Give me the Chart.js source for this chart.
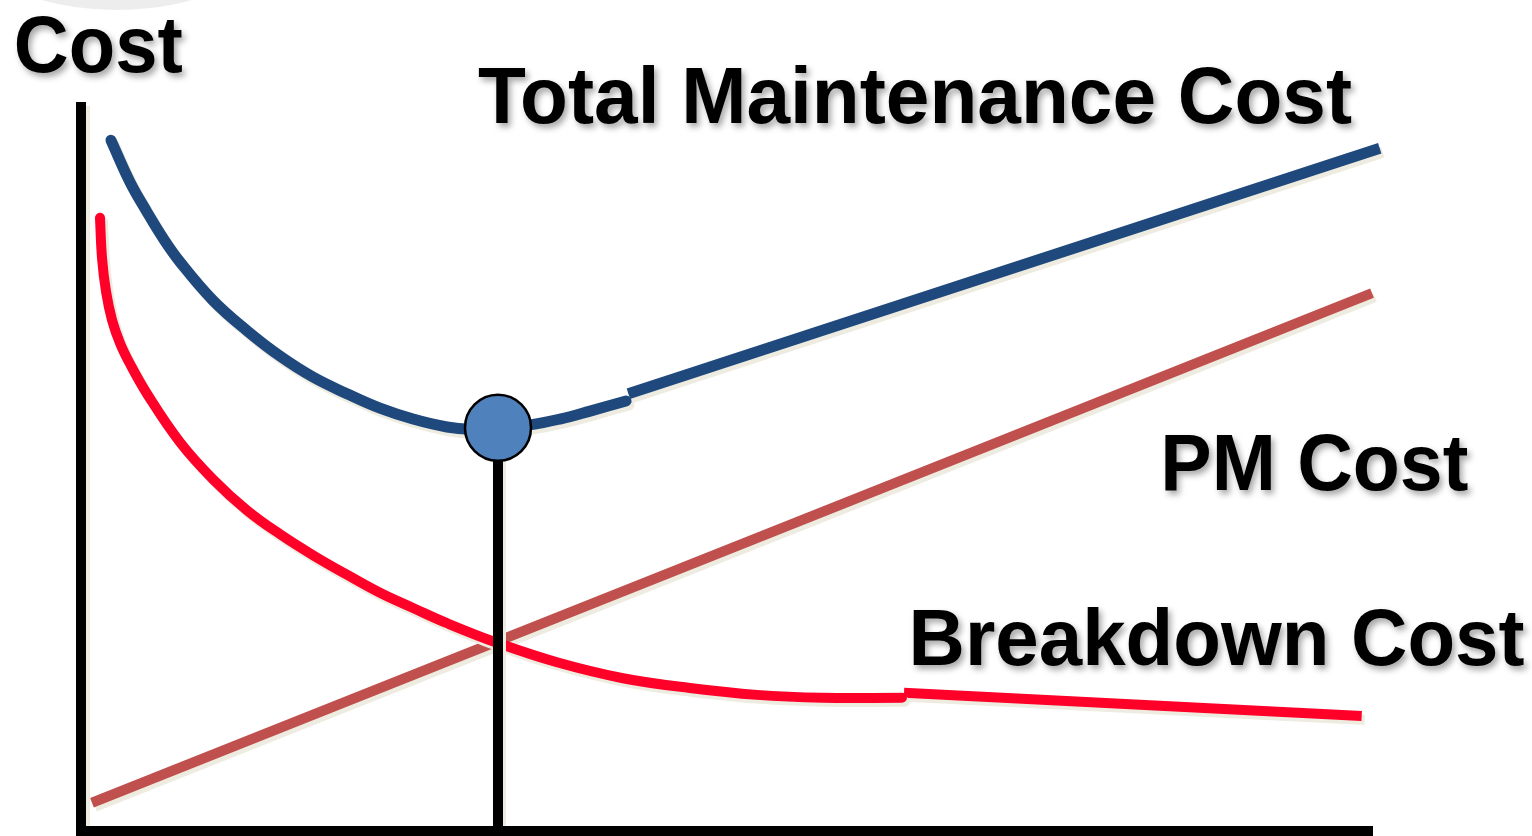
<!DOCTYPE html>
<html>

<head>
    <title>Maintenance Cost Trade-off</title>
    <script src="https://cdn.jsdelivr.net/npm/chart.js"></script>
    <style>
        body { margin: 0; background: #fff; overflow: hidden; }
        canvas { display: block; }
    </style>
</head>

<body>
    <canvas id="cost-chart" width="1532" height="836"></canvas>

    <script>
        // Level of preventive maintenance (x) vs cost (y), both in relative units 0..100
        const totalX = [2.32, 3.80, 5.11, 6.35, 7.67, 10.22, 12.86, 15.41, 17.97, 20.60, 23.16, 25.72, 28.35, 30.13, 32.22, 34.78, 37.10, 39.43, 42.22];
        const totalY = [95.4, 89.6, 85.5, 81.9, 78.6, 73.3, 69.1, 65.6, 62.7, 60.4, 58.4, 56.9, 55.8, 55.5, 55.7, 56.1, 56.9, 58.0, 59.4];
        const totalTailX = [42.4, 100.6];
        const totalTailY = [60.4, 94.3];

        const pmX = [0.85, 100];
        const pmY = [3.9, 74.3];

        const breakdownX = [1.47, 1.63, 1.94, 2.40, 3.02, 3.80, 5.11, 7.67, 10.22, 12.86, 15.41, 17.97, 20.60, 23.16, 25.72, 28.35, 32.22, 36.87, 41.98, 47.17, 52.36, 57.47, 63.59];
        const breakdownY = [84.7, 79.1, 74.5, 70.6, 67.4, 64.5, 60.4, 53.7, 48.6, 44.3, 41.0, 38.1, 35.4, 32.9, 30.8, 28.7, 26.0, 23.3, 21.1, 19.75, 18.8, 18.4, 18.4];
        const breakdownTailX = [63.75, 99.2];
        const breakdownTailY = [19.1, 15.9];

        // optimum point (minimum total cost)
        const optimumX = 32.3;
        const optimumY = 55.7;

        const labelTexts = ['Cost', 'Total Maintenance Cost', 'PM Cost', 'Breakdown Cost'];
        const labelX = [-5.2, 30.75, 83.6, 64.1];
        const labelY = [104.8, 97.8, 47.1, 22.9];

        const pts = (xs, ys) => xs.map((x, i) => ({ x: x, y: ys[i] }));

        // label look: width in px to fit, font size in px
        const labelWidths = [169, 874, 308, 616];
        const labelFont = 'bold 80px "Liberation Sans", Arial, sans-serif';

        const beige = '#eeece1';

        const decoPlugin = {
            id: 'deco',
            beforeDraw(chart) {
                const ctx = chart.ctx;
                // faint grey arc peeking in at the top edge
                ctx.save();
                ctx.fillStyle = '#ededed';
                ctx.beginPath();
                ctx.arc(117, -280, 290, 0, Math.PI * 2);
                ctx.fill();
                ctx.restore();
                // shadow for the vertical axis
                ctx.save();
                ctx.shadowColor = beige;
                ctx.shadowOffsetX = 4;
                ctx.shadowOffsetY = 4;
                ctx.shadowBlur = 0;
            },
            beforeDatasetsDraw(chart) {
                chart.ctx.restore();
            },
            beforeDatasetDraw(chart, args) {
                const ctx = chart.ctx;
                ctx.save();
                if (args.meta._dataset.shadow) {
                    ctx.shadowColor = beige;
                    ctx.shadowOffsetX = 3;
                    ctx.shadowOffsetY = 4;
                    ctx.shadowBlur = 0;
                }
            },
            afterDatasetDraw(chart) {
                chart.ctx.restore();
            },
            afterDraw(chart) {
                const ctx = chart.ctx;
                const xs = chart.scales.x, ys = chart.scales.y;
                ctx.save();
                ctx.font = labelFont;
                ctx.fillStyle = '#000';
                ctx.textBaseline = 'alphabetic';
                ctx.shadowColor = 'rgba(0,0,0,0.35)';
                ctx.shadowBlur = 6;
                ctx.shadowOffsetX = 3;
                ctx.shadowOffsetY = 4;
                labelTexts.forEach((t, i) => {
                    const px = xs.getPixelForValue(labelX[i]);
                    const py = ys.getPixelForValue(labelY[i]);
                    const w = ctx.measureText(t).width;
                    ctx.save();
                    ctx.translate(px, py);
                    ctx.scale(labelWidths[i] / w, 1);
                    ctx.fillText(t, 0, 0);
                    ctx.restore();
                });
                ctx.restore();
            }
        };

        const lineDefaults = {
            showLine: true,
            pointRadius: 0,
            borderCapStyle: 'round',
            borderJoinStyle: 'round',
            clip: false,
            shadow: true
        };

        new Chart(document.getElementById('cost-chart').getContext('2d'), {
            type: 'scatter',
            data: {
                datasets: [
                    {
                        data: [{ x: optimumX, y: optimumY }],
                        pointRadius: 33,
                        backgroundColor: '#4f81bd',
                        borderColor: '#000',
                        borderWidth: 2.5,
                        clip: false,
                        order: 0
                    },
                    Object.assign({}, lineDefaults, {
                        data: [{ x: optimumX, y: 0 }, { x: optimumX, y: optimumY }],
                        borderColor: '#000',
                        borderWidth: 10,
                        borderCapStyle: 'butt',
                        order: 1
                    }),
                    Object.assign({}, lineDefaults, {
                        data: pts(totalX, totalY),
                        borderColor: '#1f497d',
                        borderWidth: 11,
                        tension: 0.4,
                        order: 2
                    }),
                    Object.assign({}, lineDefaults, {
                        data: pts(totalTailX, totalTailY),
                        borderColor: '#1f497d',
                        borderWidth: 11,
                        borderCapStyle: 'butt',
                        order: 2
                    }),
                    Object.assign({}, lineDefaults, {
                        data: pts(breakdownX, breakdownY),
                        borderColor: '#ff0029',
                        borderWidth: 10,
                        tension: 0.4,
                        order: 3
                    }),
                    Object.assign({}, lineDefaults, {
                        data: pts(breakdownTailX, breakdownTailY),
                        borderColor: '#ff0029',
                        borderWidth: 10,
                        borderCapStyle: 'butt',
                        order: 3
                    }),
                    Object.assign({}, lineDefaults, {
                        data: pts(pmX, pmY),
                        borderColor: '#c0504d',
                        borderWidth: 10,
                        borderCapStyle: 'butt',
                        order: 4
                    })
                ]
            },
            options: {
                responsive: false,
                animation: false,
                events: [],
                layout: {
                    autoPadding: false,
                    padding: { left: 81, top: 107, right: 160, bottom: 5 }
                },
                plugins: {
                    legend: { display: false },
                    tooltip: { enabled: false }
                },
                scales: {
                    x: {
                        type: 'linear',
                        min: 0,
                        max: 100,
                        grid: { display: false, drawTicks: false, tickLength: 0 },
                        ticks: { display: false },
                        border: { display: true, color: '#000', width: 10, z: 1 },
                        afterFit(scale) { scale.height = 0; }
                    },
                    y: {
                        type: 'linear',
                        min: 0,
                        max: 100,
                        grid: { display: false, drawTicks: false, tickLength: 0 },
                        ticks: { display: false },
                        border: { display: true, color: '#000', width: 10 },
                        afterFit(scale) { scale.width = 0; }
                    }
                }
            },
            plugins: [decoPlugin]
        });
    </script>
</body>

</html>
